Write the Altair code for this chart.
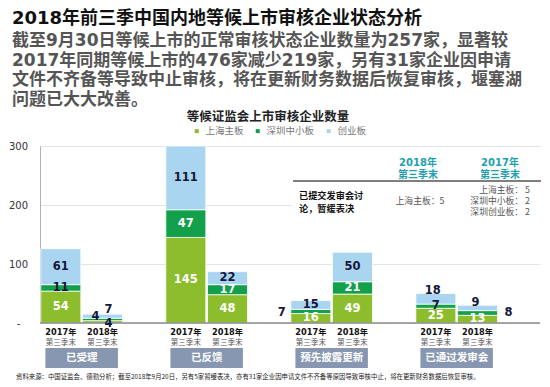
import altair as alt
import pandas as pd

groups = ["已受理", "已反馈", "预先披露更新", "已通过发审会"]
years = ["2017年", "2018年"]
boards = ["上海主板", "深圳中小板", "创业板"]

sh_2017 = [54, 145, 16, 25]
sh_2018 = [4, 48, 49, 13]
sz_2017 = [11, 47, 7, 7]
sz_2018 = [4, 17, 21, 8]
cy_2017 = [61, 111, 15, 18]
cy_2018 = [7, 22, 50, 9]

colors = ["#8cbd2c", "#12a04a", "#a9d5f0"]

title_text = "2018年前三季中国内地等候上市审核企业状态分析"
body_lines = [
    "截至9月30日等候上市的正常审核状态企业数量为257家，显著较",
    "2017年同期等候上市的476家减少219家，另有31家企业因申请",
    "文件不齐备等导致中止审核，将在更新财务数据后恢复审核，堰塞湖",
    "问题已大大改善。",
]
chart_title = "等候证监会上市审核企业数量"
footer = "资料来源：中国证监会、德勤分析；截至2018年9月20日，另有5家暂缓表决，亦有31家企业因申请文件不齐备等原因导致审核中止，将在更新财务数据后恢复审核。"
table_head_2018 = ["2018年", "第三季末"]
table_head_2017 = ["2017年", "第三季末"]
table_row = ["已提交发审会讨", "论，暂缓表决"]
table_2018 = "上海主板：5"
table_2017 = ["上海主板：  5", "深圳中小板：  2", "深圳创业板：  2"]
sub_label = "第三季末"

series = {
    ("2017年", "上海主板"): sh_2017, ("2018年", "上海主板"): sh_2018,
    ("2017年", "深圳中小板"): sz_2017, ("2018年", "深圳中小板"): sz_2018,
    ("2017年", "创业板"): cy_2017, ("2018年", "创业板"): cy_2018,
}
YMAX = 300

rows = []
for gi, g in enumerate(groups):
    for yi, yr in enumerate(years):
        slot = gi * 3 + yi
        base = 0
        for b in boards:
            v = series[(yr, b)][gi]
            top = base + v
            dark = (b == "创业板") or (b == "深圳中小板" and v <= 11)
            rows.append(dict(group=g, year=yr, board=b, value=v,
                             x0=slot + 0.02, x1=slot + 0.98, xc=slot + 0.5,
                             y0=base, y1=top,
                             ymid=(base + min(top, YMAX)) / 2,
                             key=f"{gi}|{yr}|{b}",
                             lc="dark" if dark else "light"))
            base = top
df = pd.DataFrame(rows)

# label nudges (dx, dy) for labels placed outside small segments
nudges = {
    "0|2018年|上海主板": (6, 2),
    "0|2018年|深圳中小板": (-7, -2),
    "0|2018年|创业板": (6, -6),
    "2|2017年|深圳中小板": (-29, 2),
    "3|2017年|创业板": (-3, -8),
    "3|2018年|深圳中小板": (31, 0),
    "3|2018年|创业板": (-2, -5),
}

xs = alt.Scale(domain=[0, 12], nice=False, zero=False)
ys = alt.Scale(domain=[0, YMAX], nice=False, clamp=True)
yaxis = alt.Axis(values=[0, 100, 200, 300], labelExpr="datum.value == 0 ? '-' : datum.label",
                 labelAlign="center", labelPadding=22, ticks=False, domainColor="#b0b0b0",
                 gridColor="#e4e4e4", labelFont="DejaVu Sans", labelFontSize=10,
                 labelColor="#333333", labelBaseline="middle", title=None)

CJK = "DejaVu Sans, Noto Sans CJK SC"
NUM_FONT = "DejaVu Sans"

bars = alt.Chart(df).mark_rect(stroke="white", strokeWidth=0.8).encode(
    x=alt.X("x0:Q", scale=xs, axis=None),
    x2="x1:Q",
    y=alt.Y("y0:Q", scale=ys, axis=yaxis),
    y2="y1:Q",
    color=alt.Color("board:N", scale=alt.Scale(domain=boards, range=colors),
                    legend=alt.Legend(title=None, orient="none", legendX=152, legendY=-20,
                                      direction="horizontal", symbolType="square",
                                      symbolSize=16, symbolStrokeWidth=0,
                                      labelFontSize=9.5, labelColor="#777777",
                                      labelFont="Noto Sans CJK SC", columnPadding=9,
                                      labelOffset=4)),
)

baseline = alt.Chart(pd.DataFrame({"v": [0]})).mark_rule(color="#8a8a8a", strokeWidth=1.5).encode(
    y=alt.Y("v:Q", scale=ys, axis=yaxis)
)

inside = df[~df["key"].isin(list(nudges.keys()))]
labels_inside = alt.Chart(inside).mark_text(font=NUM_FONT, fontWeight="bold", fontSize=11.5,
                                            baseline="middle").encode(
    x=alt.X("xc:Q", scale=xs, axis=None),
    y=alt.Y("ymid:Q", scale=ys, axis=yaxis),
    text="value:Q",
    color=alt.Color("lc:N", scale=alt.Scale(domain=["dark", "light"], range=["#15163a", "#ffffff"]),
                    legend=None),
)

nudge_layers = []
for k, (dx, dy) in nudges.items():
    sub = df[df["key"] == k]
    nudge_layers.append(
        alt.Chart(sub).mark_text(font=NUM_FONT, fontWeight="bold", fontSize=11.5, baseline="middle",
                                 dx=dx, dy=dy, color="#15163a").encode(
            x=alt.X("xc:Q", scale=xs, axis=None),
            y=alt.Y("ymid:Q", scale=ys, axis=yaxis),
            text="value:Q",
        )
    )

slots = df.drop_duplicates(["group", "year"])[["group", "year", "xc"]].copy()
slots["sub"] = sub_label
year_text = alt.Chart(slots).mark_text(font=CJK, fontWeight="bold", fontSize=8.2, color="#111111",
                                       baseline="middle").encode(
    x=alt.X("xc:Q", scale=xs, axis=None), y=alt.value(187), text="year:N")
sub_text = alt.Chart(slots).mark_text(font="Noto Sans CJK SC", fontSize=7.6, color="#555555",
                                      baseline="middle").encode(
    x=alt.X("xc:Q", scale=xs, axis=None), y=alt.value(196.5), text="sub:N")

gdf = pd.DataFrame({"group": groups})
gdf["gi"] = range(len(groups))
gdf["bx0"] = gdf["gi"] * 3 + 0.13
gdf["bx1"] = gdf["gi"] * 3 + 1.87
gdf["gc"] = gdf["gi"] * 3 + 1.0
boxes = alt.Chart(gdf).mark_rect(color="#8797b2").encode(
    x=alt.X("bx0:Q", scale=xs, axis=None), x2="bx1:Q", y=alt.value(202), y2=alt.value(222))
box_text = alt.Chart(gdf).mark_text(font="Noto Sans CJK SC", fontWeight="bold", fontSize=10.5,
                                    color="white", baseline="middle").encode(
    x=alt.X("gc:Q", scale=xs, axis=None), y=alt.value(212), text="group:N")

one = pd.DataFrame({"k": [0]})


def txt(text, x, y, **kw):
    return alt.Chart(one).mark_text(text=text, **kw).encode(x=alt.value(x), y=alt.value(y))


cover = alt.Chart(one).mark_rect(color="white").encode(
    x=alt.value(252), x2=alt.value(505), y=alt.value(4), y2=alt.value(70))

layers = [bars, baseline, labels_inside] + nudge_layers + [
    year_text, sub_text, boxes, box_text, cover,
    txt(title_text, -28, -127, font=CJK, fontWeight="bold", fontSize=18, color="#111111",
        align="left", baseline="middle"),
    txt(body_lines, -28, -105, font=CJK, fontWeight="bold", fontSize=17, color="#555555",
        align="left", baseline="middle", lineHeight=19.7),
    txt(chart_title, 228, -29, font="Noto Sans CJK SC", fontWeight="bold", fontSize=12.5,
        color="#222222", align="center", baseline="middle"),
    txt(table_head_2018, 378, 17, font=CJK, fontWeight="bold", fontSize=10, color="#1f9fb0",
        align="center", baseline="middle", lineHeight=12),
    txt(table_head_2017, 460, 17, font=CJK, fontWeight="bold", fontSize=10, color="#1f9fb0",
        align="center", baseline="middle", lineHeight=12),
    alt.Chart(one).mark_rule(color="#555555", strokeWidth=1.5).encode(
        x=alt.value(253), x2=alt.value(501), y=alt.value(35)),
    txt(table_row, 259, 50, font="Noto Sans CJK SC", fontWeight="bold", fontSize=9.2,
        color="#111111", align="left", baseline="middle", lineHeight=13),
    txt(table_2018, 380, 55, font="Noto Sans CJK SC", fontSize=8.8, color="#555555",
        align="center", baseline="middle"),
    txt(table_2017, 490, 44, font="Noto Sans CJK SC", fontSize=8.8, color="#555555",
        align="right", baseline="middle", lineHeight=11),
    txt(footer, -24, 231, font="Noto Sans CJK SC", fontSize=6.4, color="#222222",
        align="left", baseline="middle"),
]

chart = alt.layer(*layers).properties(
    width=500, height=177,
    padding={"left": 32, "top": 138, "right": 2, "bottom": 59},
    autosize=alt.AutoSizeParams(type="none"),
).configure_view(stroke=None).resolve_scale(color="independent")

chart.save("out.html", embed_options={"renderer": "svg", "actions": False})
